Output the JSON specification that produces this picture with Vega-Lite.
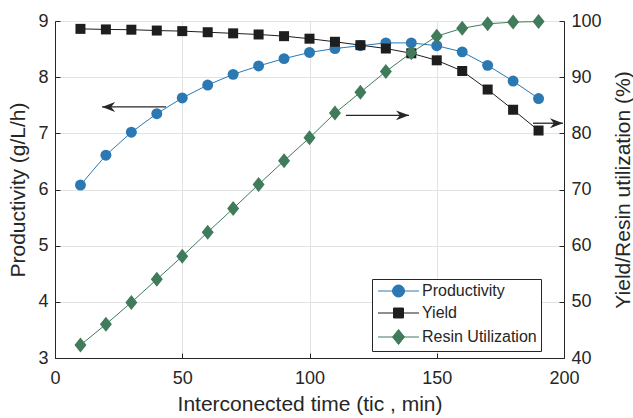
{
  "$schema": "https://vega.github.io/schema/vega-lite/v6.json",
  "width": 509,
  "height": 337,
  "autosize": {"type": "none"},
  "padding": {"left": 55, "top": 21, "right": 69, "bottom": 60},
  "background": "white",
  "config": {
    "font": "Liberation Sans",
    "view": {"stroke": "#262626", "strokeWidth": 1},
    "axis": {
      "labelFont": "Liberation Sans",
      "labelFontSize": 18,
      "labelColor": "#262626",
      "titleFont": "Liberation Sans",
      "titleFontSize": 21,
      "titleFontWeight": "normal",
      "titleColor": "#262626",
      "domainColor": "#262626",
      "tickColor": "#262626",
      "tickSize": -5,
      "gridColor": "#e3e3e3",
      "labelPadding": 12,
      "labelFlush": false,
      "labelOverlap": false
    },
    "axisX": {"labelPadding": 16},
    "legend": {"orient": "none", "legendX": 317, "legendY": 258, "title": null, "labelFont": "Liberation Sans", "labelFontSize": 16, "labelColor": "#262626", "symbolSize": 144, "fillColor": "white", "strokeColor": "#262626", "padding": 4, "rowPadding": 6, "labelOffset": 30}
  },
  "datasets": {
    "main": [
      {"t": 10, "series": "Productivity", "value": 6.08},
      {"t": 20, "series": "Productivity", "value": 6.61},
      {"t": 30, "series": "Productivity", "value": 7.02},
      {"t": 40, "series": "Productivity", "value": 7.35},
      {"t": 50, "series": "Productivity", "value": 7.63},
      {"t": 60, "series": "Productivity", "value": 7.86},
      {"t": 70, "series": "Productivity", "value": 8.05},
      {"t": 80, "series": "Productivity", "value": 8.2},
      {"t": 90, "series": "Productivity", "value": 8.33},
      {"t": 100, "series": "Productivity", "value": 8.44},
      {"t": 110, "series": "Productivity", "value": 8.51},
      {"t": 120, "series": "Productivity", "value": 8.56},
      {"t": 130, "series": "Productivity", "value": 8.61},
      {"t": 140, "series": "Productivity", "value": 8.61},
      {"t": 150, "series": "Productivity", "value": 8.56},
      {"t": 160, "series": "Productivity", "value": 8.45},
      {"t": 170, "series": "Productivity", "value": 8.21},
      {"t": 180, "series": "Productivity", "value": 7.93},
      {"t": 190, "series": "Productivity", "value": 7.62},
      {"t": 10, "series": "Yield", "value": 98.6},
      {"t": 20, "series": "Yield", "value": 98.5},
      {"t": 30, "series": "Yield", "value": 98.45},
      {"t": 40, "series": "Yield", "value": 98.3},
      {"t": 50, "series": "Yield", "value": 98.2},
      {"t": 60, "series": "Yield", "value": 98.0},
      {"t": 70, "series": "Yield", "value": 97.8},
      {"t": 80, "series": "Yield", "value": 97.6},
      {"t": 90, "series": "Yield", "value": 97.3},
      {"t": 100, "series": "Yield", "value": 96.85},
      {"t": 110, "series": "Yield", "value": 96.3},
      {"t": 120, "series": "Yield", "value": 95.7},
      {"t": 130, "series": "Yield", "value": 95.1},
      {"t": 140, "series": "Yield", "value": 94.25},
      {"t": 150, "series": "Yield", "value": 93.0},
      {"t": 160, "series": "Yield", "value": 91.1},
      {"t": 170, "series": "Yield", "value": 87.8},
      {"t": 180, "series": "Yield", "value": 84.2},
      {"t": 190, "series": "Yield", "value": 80.5},
      {"t": 10, "series": "Resin Utilization", "value": 42.3},
      {"t": 20, "series": "Resin Utilization", "value": 46.0},
      {"t": 30, "series": "Resin Utilization", "value": 49.9},
      {"t": 40, "series": "Resin Utilization", "value": 54.0},
      {"t": 50, "series": "Resin Utilization", "value": 58.1},
      {"t": 60, "series": "Resin Utilization", "value": 62.4},
      {"t": 70, "series": "Resin Utilization", "value": 66.6},
      {"t": 80, "series": "Resin Utilization", "value": 70.9},
      {"t": 90, "series": "Resin Utilization", "value": 75.1},
      {"t": 100, "series": "Resin Utilization", "value": 79.2},
      {"t": 110, "series": "Resin Utilization", "value": 83.6},
      {"t": 120, "series": "Resin Utilization", "value": 87.3},
      {"t": 130, "series": "Resin Utilization", "value": 91.0},
      {"t": 140, "series": "Resin Utilization", "value": 94.35},
      {"t": 150, "series": "Resin Utilization", "value": 97.3},
      {"t": 160, "series": "Resin Utilization", "value": 98.7},
      {"t": 170, "series": "Resin Utilization", "value": 99.5},
      {"t": 180, "series": "Resin Utilization", "value": 99.8},
      {"t": 190, "series": "Resin Utilization", "value": 99.9}
    ],
    "arrows": [
      {"x0": 43.6, "x1": 18.5, "y": 7.47, "dir": "left"},
      {"x0": 114.3, "x1": 139.1, "y": 7.32, "dir": "right"},
      {"x0": 187.8, "x1": 199.6, "y": 7.18, "dir": "right"}
    ]
  },
  "layer": [
    {
      "layer": [
        {
          "data": {"name": "main"},
          "transform": [{"filter": "datum.series === 'Productivity'"}],
          "mark": {"type": "line", "strokeWidth": 1},
          "encoding": {
            "x": {"field": "t", "type": "quantitative", "scale": {"domain": [0, 200]}, "axis": {"title": "Interconected time (tic , min)", "values": [0, 50, 100, 150, 200], "grid": true, "titlePadding": 6}},
            "y": {"field": "value", "type": "quantitative", "scale": {"domain": [3, 9]}, "axis": {"title": "Productivity (g/L/h)", "values": [3, 4, 5, 6, 7, 8, 9], "grid": true, "titlePadding": 9}},
            "color": {"field": "series", "type": "nominal", "scale": {"domain": ["Productivity", "Yield", "Resin Utilization"], "range": ["#2b78b3", "#1e1e1e", "#407b5b"]}, "legend": {"encode": {"symbols": {"update": {"shape": {"signal": "datum.value === 'Productivity' ? 'M-1,0H5.83M3.42,0A1,1,0,1,1,1.42,0A1,1,0,1,1,3.42,0Z' : datum.value === 'Yield' ? 'M-1,0H5.83M1.59,-0.83H3.25V0.83H1.59Z' : 'M-1,0H5.83M2.42,-1.25L3.42,0L2.42,1.25L1.42,0Z'"}, "stroke": {"scale": "color", "field": "value"}, "strokeWidth": {"value": 1}, "opacity": {"value": 1}}}}}}
          }
        },
        {
          "data": {"name": "main"},
          "transform": [{"filter": "datum.series === 'Productivity'"}],
          "mark": {"type": "point", "filled": true, "opacity": 1, "size": 120, "shape": "circle"},
          "encoding": {
            "x": {"field": "t", "type": "quantitative", "scale": {"domain": [0, 200]}, "axis": {"title": "Interconected time (tic , min)", "values": [0, 50, 100, 150, 200], "grid": true, "titlePadding": 6}},
            "y": {"field": "value", "type": "quantitative", "scale": {"domain": [3, 9]}, "axis": {"title": "Productivity (g/L/h)", "values": [3, 4, 5, 6, 7, 8, 9], "grid": true, "titlePadding": 9}},
            "color": {"field": "series", "type": "nominal", "scale": {"domain": ["Productivity", "Yield", "Resin Utilization"], "range": ["#2b78b3", "#1e1e1e", "#407b5b"]}, "legend": {"encode": {"symbols": {"update": {"shape": {"signal": "datum.value === 'Productivity' ? 'M-1,0H5.83M3.42,0A1,1,0,1,1,1.42,0A1,1,0,1,1,3.42,0Z' : datum.value === 'Yield' ? 'M-1,0H5.83M1.59,-0.83H3.25V0.83H1.59Z' : 'M-1,0H5.83M2.42,-1.25L3.42,0L2.42,1.25L1.42,0Z'"}, "stroke": {"scale": "color", "field": "value"}, "strokeWidth": {"value": 1}, "opacity": {"value": 1}}}}}}
          }
        },
        {
          "data": {"name": "arrows"},
          "mark": {"type": "rule", "color": "#262626", "strokeWidth": 1.3},
          "encoding": {
            "x": {"field": "x0", "type": "quantitative", "scale": {"domain": [0, 200]}, "axis": {"title": "Interconected time (tic , min)", "values": [0, 50, 100, 150, 200], "grid": true, "titlePadding": 6}},
            "x2": {"field": "x1"},
            "y": {"field": "y", "type": "quantitative", "scale": {"domain": [3, 9]}, "axis": {"title": "Productivity (g/L/h)", "values": [3, 4, 5, 6, 7, 8, 9], "grid": true, "titlePadding": 9}}
          }
        },
        {
          "data": {"name": "arrows"},
          "transform": [{"filter": "datum.dir === 'left'"}],
          "mark": {"type": "point", "filled": true, "opacity": 1, "color": "#262626", "size": 196, "shape": "M0,0L1.86,-0.71L1.3,0L1.86,0.71Z"},
          "encoding": {
            "x": {"field": "x1", "type": "quantitative", "scale": {"domain": [0, 200]}, "axis": {"title": "Interconected time (tic , min)", "values": [0, 50, 100, 150, 200], "grid": true, "titlePadding": 6}},
            "y": {"field": "y", "type": "quantitative", "scale": {"domain": [3, 9]}, "axis": {"title": "Productivity (g/L/h)", "values": [3, 4, 5, 6, 7, 8, 9], "grid": true, "titlePadding": 9}}
          }
        },
        {
          "data": {"name": "arrows"},
          "transform": [{"filter": "datum.dir === 'right'"}],
          "mark": {"type": "point", "filled": true, "opacity": 1, "color": "#262626", "size": 196, "shape": "M0,0L-1.86,-0.71L-1.3,0L-1.86,0.71Z"},
          "encoding": {
            "x": {"field": "x1", "type": "quantitative", "scale": {"domain": [0, 200]}, "axis": {"title": "Interconected time (tic , min)", "values": [0, 50, 100, 150, 200], "grid": true, "titlePadding": 6}},
            "y": {"field": "y", "type": "quantitative", "scale": {"domain": [3, 9]}, "axis": {"title": "Productivity (g/L/h)", "values": [3, 4, 5, 6, 7, 8, 9], "grid": true, "titlePadding": 9}}
          }
        }
      ]
    },
    {
      "layer": [
        {
          "data": {"name": "main"},
          "transform": [{"filter": "datum.series !== 'Productivity'"}],
          "mark": {"type": "line", "strokeWidth": 1},
          "encoding": {
            "x": {"field": "t", "type": "quantitative", "scale": {"domain": [0, 200]}, "axis": {"title": "Interconected time (tic , min)", "values": [0, 50, 100, 150, 200], "grid": true, "titlePadding": 6}},
            "y": {"field": "value", "type": "quantitative", "scale": {"domain": [40, 100]}, "axis": {"orient": "right", "title": "Yield/Resin utilization (%)", "titleAngle": -90, "values": [40, 50, 60, 70, 80, 90, 100], "grid": false, "titlePadding": 32}},
            "color": {"field": "series", "type": "nominal", "scale": {"domain": ["Productivity", "Yield", "Resin Utilization"], "range": ["#2b78b3", "#1e1e1e", "#407b5b"]}, "legend": {"encode": {"symbols": {"update": {"shape": {"signal": "datum.value === 'Productivity' ? 'M-1,0H5.83M3.42,0A1,1,0,1,1,1.42,0A1,1,0,1,1,3.42,0Z' : datum.value === 'Yield' ? 'M-1,0H5.83M1.59,-0.83H3.25V0.83H1.59Z' : 'M-1,0H5.83M2.42,-1.25L3.42,0L2.42,1.25L1.42,0Z'"}, "stroke": {"scale": "color", "field": "value"}, "strokeWidth": {"value": 1}, "opacity": {"value": 1}}}}}},
            "detail": {"field": "series"}
          }
        },
        {
          "data": {"name": "main"},
          "transform": [{"filter": "datum.series === 'Yield'"}],
          "mark": {"type": "point", "filled": true, "opacity": 1, "size": 100, "shape": "square"},
          "encoding": {
            "x": {"field": "t", "type": "quantitative", "scale": {"domain": [0, 200]}, "axis": {"title": "Interconected time (tic , min)", "values": [0, 50, 100, 150, 200], "grid": true, "titlePadding": 6}},
            "y": {"field": "value", "type": "quantitative", "scale": {"domain": [40, 100]}, "axis": {"orient": "right", "title": "Yield/Resin utilization (%)", "titleAngle": -90, "values": [40, 50, 60, 70, 80, 90, 100], "grid": false, "titlePadding": 32}},
            "color": {"field": "series", "type": "nominal", "scale": {"domain": ["Productivity", "Yield", "Resin Utilization"], "range": ["#2b78b3", "#1e1e1e", "#407b5b"]}, "legend": {"encode": {"symbols": {"update": {"shape": {"signal": "datum.value === 'Productivity' ? 'M-1,0H5.83M3.42,0A1,1,0,1,1,1.42,0A1,1,0,1,1,3.42,0Z' : datum.value === 'Yield' ? 'M-1,0H5.83M1.59,-0.83H3.25V0.83H1.59Z' : 'M-1,0H5.83M2.42,-1.25L3.42,0L2.42,1.25L1.42,0Z'"}, "stroke": {"scale": "color", "field": "value"}, "strokeWidth": {"value": 1}, "opacity": {"value": 1}}}}}}
          }
        },
        {
          "data": {"name": "main"},
          "transform": [{"filter": "datum.series === 'Resin Utilization'"}],
          "mark": {"type": "point", "filled": true, "opacity": 1, "size": 100, "shape": "M0,-1.5L1.2,0L0,1.5L-1.2,0Z"},
          "encoding": {
            "x": {"field": "t", "type": "quantitative", "scale": {"domain": [0, 200]}, "axis": {"title": "Interconected time (tic , min)", "values": [0, 50, 100, 150, 200], "grid": true, "titlePadding": 6}},
            "y": {"field": "value", "type": "quantitative", "scale": {"domain": [40, 100]}, "axis": {"orient": "right", "title": "Yield/Resin utilization (%)", "titleAngle": -90, "values": [40, 50, 60, 70, 80, 90, 100], "grid": false, "titlePadding": 32}},
            "color": {"field": "series", "type": "nominal", "scale": {"domain": ["Productivity", "Yield", "Resin Utilization"], "range": ["#2b78b3", "#1e1e1e", "#407b5b"]}, "legend": {"encode": {"symbols": {"update": {"shape": {"signal": "datum.value === 'Productivity' ? 'M-1,0H5.83M3.42,0A1,1,0,1,1,1.42,0A1,1,0,1,1,3.42,0Z' : datum.value === 'Yield' ? 'M-1,0H5.83M1.59,-0.83H3.25V0.83H1.59Z' : 'M-1,0H5.83M2.42,-1.25L3.42,0L2.42,1.25L1.42,0Z'"}, "stroke": {"scale": "color", "field": "value"}, "strokeWidth": {"value": 1}, "opacity": {"value": 1}}}}}}
          }
        }
      ]
    }
  ],
  "resolve": {"scale": {"y": "independent"}}
}
